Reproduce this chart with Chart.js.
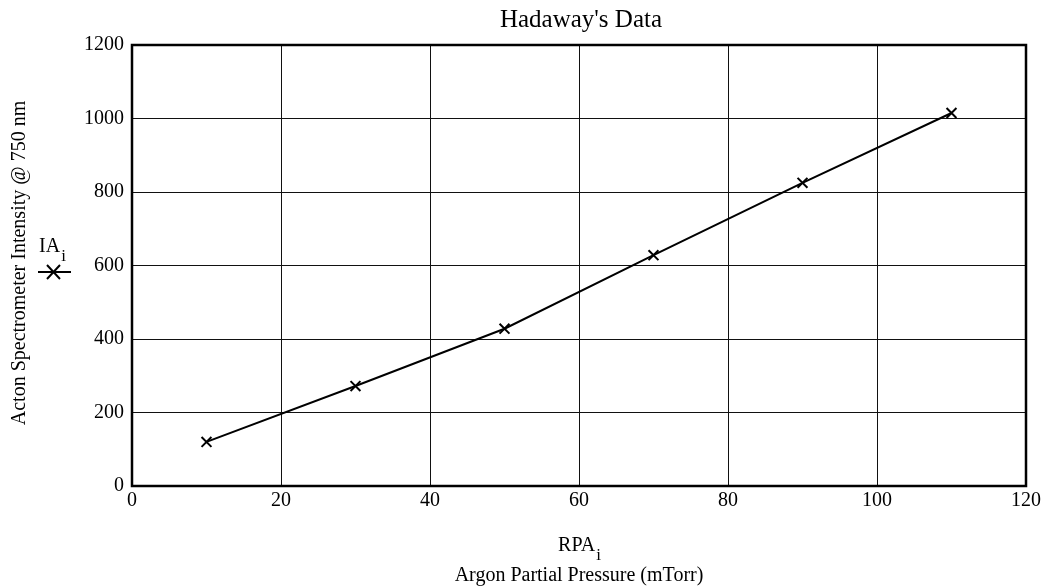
<!DOCTYPE html>
<html>
<head>
<meta charset="utf-8">
<title>Hadaway's Data</title>
<script src="https://cdn.jsdelivr.net/npm/chart.js@4"></script>
<style>
  html, body { margin: 0; padding: 0; background: #fff; }
  #wrap { width: 1050px; height: 586px; }
</style>
</head>
<body>
<div id="wrap"><canvas id="chart" width="1050" height="586"></canvas></div>
<script>
// Data
const pressures = [10, 30, 50, 70, 90, 110];
const intensities = [120, 272, 428, 628, 825, 1015];
const xTicks = [0, 20, 40, 60, 80, 100, 120];
const yTicks = [0, 200, 400, 600, 800, 1000, 1200];

const serif = '"Liberation Serif", "Times New Roman", serif';
const ink = '#000';

// text with a subscript, baseline at y, centred on x
function subText(ctx, main, sub, x, y, size) {
    ctx.font = size + 'px ' + serif;
    const w1 = ctx.measureText(main).width;
    ctx.font = Math.round(size * 0.85) + 'px ' + serif;
    const w2 = ctx.measureText(sub).width;
    const start = x - (w1 + w2) / 2;
    ctx.textAlign = 'left';
    ctx.textBaseline = 'alphabetic';
    ctx.font = size + 'px ' + serif;
    ctx.fillText(main, start, y);
    ctx.font = Math.round(size * 0.85) + 'px ' + serif;
    ctx.fillText(sub, start + w1 + 1, y + size * 0.45);
}

// Titles, legend key and frame
const decorations = {
    id: 'decorations',
    afterDraw(chart) {
        const ctx = chart.ctx;
        const a = chart.chartArea;
        ctx.save();
        ctx.fillStyle = ink;

        ctx.font = '25px ' + serif;
        ctx.textAlign = 'center';
        ctx.textBaseline = 'alphabetic';
        ctx.fillText("Hadaway's Data", 581, 27);

        // y title
        ctx.save();
        ctx.translate(20, 263);
        ctx.rotate(-Math.PI / 2);
        ctx.font = '20px ' + serif;
        ctx.textAlign = 'center';
        ctx.textBaseline = 'middle';
        ctx.fillText('Acton Spectrometer Intensity @ 750 nm', 0, 0);
        ctx.restore();

        // series key
        subText(ctx, 'IA', 'i', 52, 252, 20);
        ctx.strokeStyle = ink;
        ctx.lineWidth = 2;
        ctx.beginPath();
        ctx.moveTo(38, 272);
        ctx.lineTo(71, 272);
        ctx.moveTo(47, 265);
        ctx.lineTo(60, 279);
        ctx.moveTo(60, 265);
        ctx.lineTo(47, 279);
        ctx.stroke();

        // x titles
        const cx = (a.left + a.right) / 2;
        subText(ctx, 'RPA', 'i', cx, 551, 20);
        ctx.font = '20px ' + serif;
        ctx.textAlign = 'center';
        ctx.textBaseline = 'middle';
        ctx.fillText('Argon Partial Pressure (mTorr)', cx, 576);

        // frame
        ctx.lineWidth = 2.5;
        ctx.strokeRect(a.left, a.top, a.right - a.left, a.bottom - a.top);
        ctx.restore();
    }
};

function setupChart() {
    const ctx = document.getElementById('chart').getContext('2d');
    return new Chart(ctx, {
        type: 'scatter',
        data: {
            datasets: [{
                label: 'IA',
                data: pressures.map((p, i) => ({ x: p, y: intensities[i] })),
                showLine: true,
                borderColor: ink,
                borderWidth: 2,
                pointStyle: 'crossRot',
                pointRadius: 7,
                pointBorderWidth: 2,
                pointBorderColor: ink,
                pointBackgroundColor: ink
            }]
        },
        options: {
            responsive: false,
            animation: false,
            layout: { padding: { top: 45, right: 24, left: 0, bottom: 0 } },
            plugins: {
                legend: { display: false },
                tooltip: { enabled: false },
                title: { display: false }
            },
            scales: {
                x: {
                    type: 'linear',
                    min: 0,
                    max: 120,
                    afterBuildTicks: (scale) => { scale.ticks = xTicks.map(v => ({ value: v })); },
                    afterFit: (scale) => { scale.height = 100; },
                    grid: { color: '#111', lineWidth: 1, drawTicks: false },
                    border: { color: ink, width: 2 },
                    ticks: {
                        color: ink,
                        padding: 3,
                        callback: (v) => String(v),
                        font: { family: serif, size: 20 }
                    }
                },
                y: {
                    type: 'linear',
                    min: 0,
                    max: 1200,
                    afterBuildTicks: (scale) => { scale.ticks = yTicks.map(v => ({ value: v })); },
                    afterFit: (scale) => { scale.width = 132; },
                    grid: { color: '#111', lineWidth: 1, drawTicks: false },
                    border: { color: ink, width: 2 },
                    ticks: {
                        color: ink,
                        padding: 8,
                        callback: (v) => String(v),
                        font: { family: serif, size: 20 }
                    }
                }
            }
        },
        plugins: [decorations]
    });
}

document.addEventListener('DOMContentLoaded', setupChart);
</script>
</body>
</html>
